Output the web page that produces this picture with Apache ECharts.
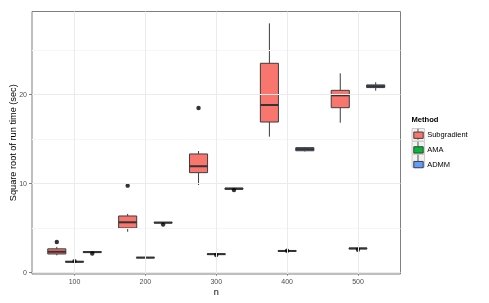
<!DOCTYPE html>
<html><head><meta charset="utf-8">
<script src="https://cdn.jsdelivr.net/npm/echarts@6/dist/echarts.min.js"></script>
<style>html,body{margin:0;padding:0;background:#fff}#c{width:489px;height:303px}</style>
</head><body><div id="c"></div>
<script>
// ---- data ----
const nLabels = ['100', '200', '300', '400', '500'];
const methods = ['Subgradient', 'AMA', 'ADMM'];
const methodColors = ['#F8766D', '#00BA38', '#619CFF'];
// [low whisker, Q1, median, Q3, high whisker] for each n
const subgradientStats = [
  [1.95, 2.10, 2.35, 2.68, 2.90],
  [4.60, 5.02, 5.66, 6.37, 6.60],
  [9.85, 11.24, 11.96, 13.34, 13.67],
  [15.28, 16.93, 18.84, 23.53, 28.02],
  [16.85, 18.54, 19.93, 20.49, 22.40]
];
const amaStats = [
  [1.19, 1.20, 1.22, 1.27, 1.30],
  [1.66, 1.67, 1.69, 1.72, 1.74],
  [2.02, 2.04, 2.08, 2.12, 2.15],
  [2.38, 2.40, 2.44, 2.48, 2.50],
  [2.65, 2.68, 2.72, 2.76, 2.78]
];
const admmStats = [
  [2.25, 2.27, 2.31, 2.36, 2.38],
  [5.55, 5.58, 5.62, 5.66, 5.68],
  [9.34, 9.37, 9.44, 9.50, 9.52],
  [13.62, 13.70, 13.88, 14.05, 14.12],
  [20.45, 20.80, 20.95, 21.10, 21.40]
];
const subgradientOutliers = [['100', 3.45], ['200', 9.78], ['300', 18.5]];
const amaOutliers = [['100', 1.30], ['300', 1.98], ['400', 2.47], ['500', 2.57]];
const admmOutliers = [['100', 2.15], ['200', 5.40], ['300', 9.28]];
const yTicks = [0, 10, 20];
const yMinorTicks = [5, 15, 25];

// ---- layout helpers ----
const allStats = [subgradientStats, amaStats, admmStats];
const allOutliers = [subgradientOutliers, amaOutliers, admmOutliers];
const dodge = [-0.25, 0, 0.25];
const boxW = 0.255;
const FONT = '"Liberation Sans", Arial, Helvetica, sans-serif';
const stroke = '#3d3d3d';

function renderBox(params, api) {
  const x = api.value(0);
  const w = api.size([boxW, 0])[0];
  const pLow = api.coord([x, api.value(1)]);
  const pQ1 = api.coord([x, api.value(2)]);
  const pMed = api.coord([x, api.value(3)]);
  const pQ3 = api.coord([x, api.value(4)]);
  const pHigh = api.coord([x, api.value(5)]);
  const cx = pLow[0];
  return {
    type: 'group',
    children: [
      {type: 'line', shape: {x1: cx, y1: pLow[1], x2: cx, y2: pQ1[1]}, style: {stroke, lineWidth: 1}},
      {type: 'line', shape: {x1: cx, y1: pQ3[1], x2: cx, y2: pHigh[1]}, style: {stroke, lineWidth: 1}},
      {type: 'rect', shape: {x: cx - w / 2, y: pQ3[1], width: w, height: pQ1[1] - pQ3[1]},
        style: {fill: api.visual('color'), stroke, lineWidth: 1}},
      {type: 'line', shape: {x1: cx - w / 2, y1: pMed[1], x2: cx + w / 2, y2: pMed[1]}, style: {stroke: '#333', lineWidth: 2}}
    ]
  };
}

const series = [];
// gridlines
series.push({
  type: 'line', name: 'grid', data: [], z: 1, silent: true,
  markLine: {
    silent: true, symbol: 'none', label: {show: false}, animation: false,
    data: [
      ...yMinorTicks.map(v => ({yAxis: v, lineStyle: {color: '#f6f6f6', width: 1, type: 'solid'}})),
      ...yTicks.map(v => ({yAxis: v, lineStyle: {color: '#ebebeb', width: 1, type: 'solid'}})),
      ...nLabels.map((s, i) => ({xAxis: i + 1, lineStyle: {color: '#ebebeb', width: 1, type: 'solid'}}))
    ]
  }
});
methods.forEach((m, k) => {
  series.push({
    type: 'custom', name: m, z: 2,
    itemStyle: {color: methodColors[k]},
    renderItem: renderBox,
    encode: {x: 0, y: [1, 2, 3, 4, 5]},
    data: allStats[k].map((s, i) => [i + 1 + dodge[k], ...s])
  });
});
methods.forEach((m, k) => {
  series.push({
    type: 'scatter', name: m + ' outliers', z: 3,
    symbolSize: 4.4, itemStyle: {color: '#000'},
    data: allOutliers[k].map(o => [nLabels.indexOf(o[0]) + 1 + dodge[k], o[1]])
  });
});

const keyCenters = [134.3, 147.3, 160.3];
const graphics = [];
keyCenters.forEach(c => {
  graphics.push({type: 'rect', left: 411.5, top: c - 6.3, z: 0,
    shape: {width: 12.6, height: 12.6}, style: {fill: '#f2f2f2', stroke: '#cccccc', lineWidth: 1}});
  graphics.push({type: 'line', z: 1, shape: {x1: 418, y1: c - 5.5, x2: 418, y2: c + 5.5},
    style: {stroke: '#555', lineWidth: 1}});
});

const chart = echarts.init(document.getElementById('c'), null, {renderer: 'canvas'});
chart.setOption({
  animation: false,
  backgroundColor: '#fff',
  color: methodColors,
  textStyle: {fontFamily: FONT},
  title: {text: 'Method', left: 411.5, top: 116.3, padding: 0,
    textStyle: {fontFamily: FONT, fontSize: 7.6, fontWeight: 'bold', color: '#000'}},
  legend: {
    data: methods, orient: 'vertical', left: 413.3, top: 131.2, padding: 0,
    icon: 'rect', itemWidth: 9.4, itemHeight: 6.3, itemGap: 6.7, z: 5,
    itemStyle: {borderColor: '#3d3d3d', borderWidth: 1},
    textStyle: {fontFamily: FONT, fontSize: 7.5, color: '#000', padding: [0, 0, 0, -1]},
    selectedMode: false
  },
  graphic: graphics,
  grid: {left: 32, top: 11.5, width: 368.5, height: 262.5, show: true, containLabel: false,
    outerBoundsMode: 'none',
    backgroundColor: '#fff', borderColor: '#7f7f7f', borderWidth: 1},
  xAxis: {
    type: 'value', min: 0.4, max: 5.6,
    name: 'n', nameLocation: 'middle', nameGap: 14, nameMoveOverlap: false,
    nameTextStyle: {fontFamily: FONT, fontSize: 9.2, color: '#000'},
    axisLine: {show: false},
    axisTick: {show: true, length: 3, customValues: [1, 2, 3, 4, 5], lineStyle: {color: '#7f7f7f'}},
    axisLabel: {customValues: [1, 2, 3, 4, 5], formatter: v => nLabels[Math.round(v) - 1],
      fontFamily: FONT, fontSize: 7, color: '#4d4d4d', margin: 5},
    splitLine: {show: false}
  },
  yAxis: {
    type: 'value', min: -0.15, max: 29.35,
    name: 'Square root of run time (sec)', nameLocation: 'middle', nameGap: 14, nameMoveOverlap: false,
    nameTextStyle: {fontFamily: FONT, fontSize: 9.2, color: '#000'},
    axisLine: {show: false},
    axisTick: {show: true, length: 3, customValues: yTicks, lineStyle: {color: '#7f7f7f'}},
    axisLabel: {customValues: yTicks, fontFamily: FONT, fontSize: 7, color: '#4d4d4d', margin: 5},
    splitLine: {show: false}
  },
  series: series
});
</script>
</body></html>
